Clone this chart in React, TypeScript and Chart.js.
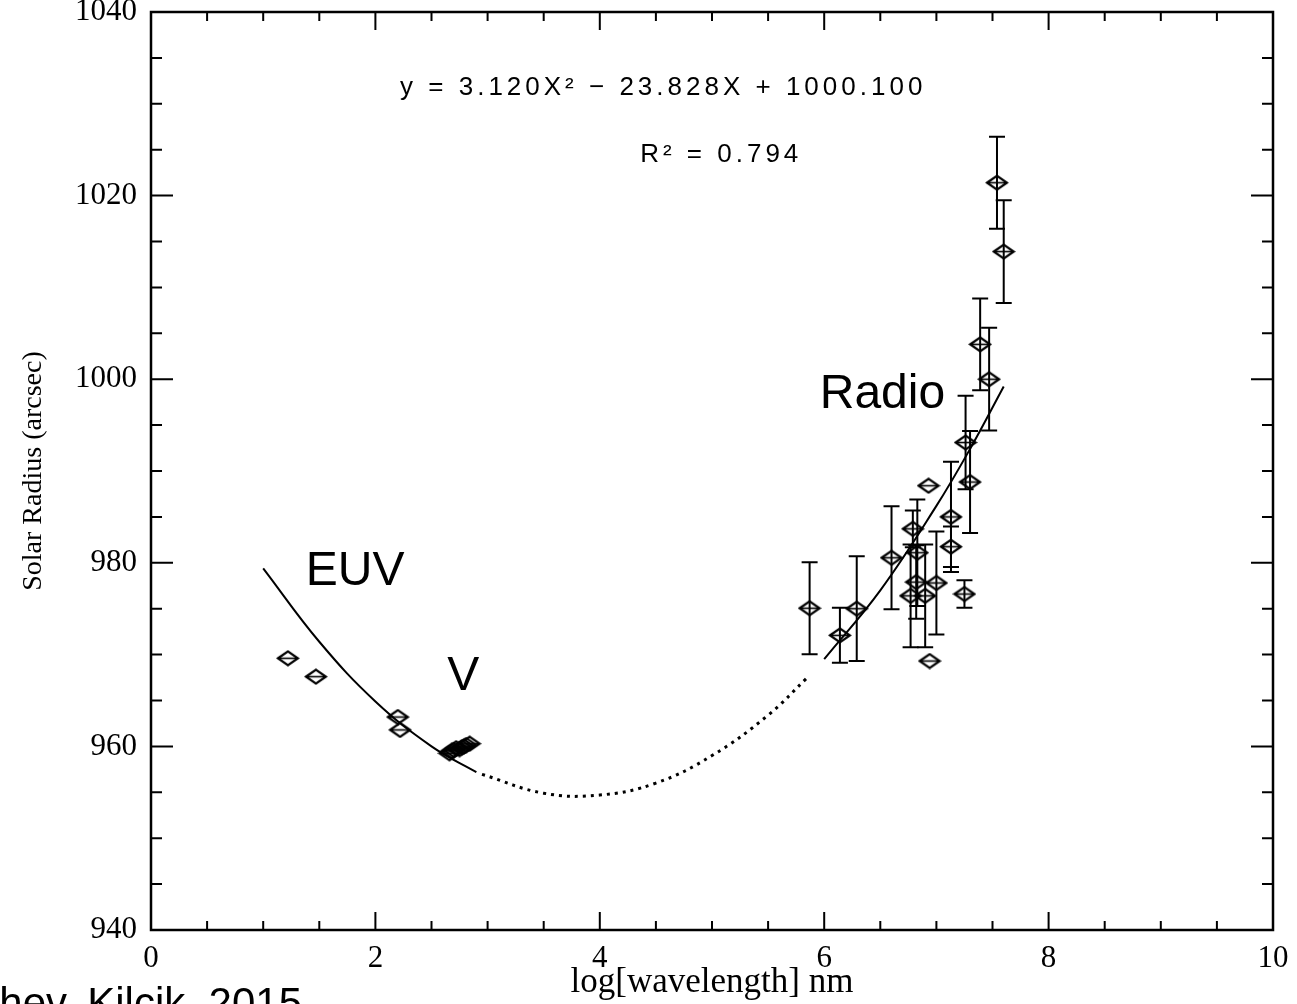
import React, { useEffect, useRef } from "react";
import { Chart, registerables } from "chart.js";

Chart.register(...registerables);

// ---------- data ----------
const euvX = [1.22, 1.47, 2.2, 2.22];
const euvY = [969.6, 967.6, 963.2, 961.8];

const visX = [2.66, 2.68, 2.7, 2.72, 2.75, 2.77, 2.79, 2.81, 2.84];
const visY = [959.25, 959.5, 959.6, 959.8, 959.7, 959.9, 960.0, 960.15, 960.3];

const radioX = [5.87, 6.14, 6.29, 6.6, 6.79, 6.83, 6.82, 6.77, 6.9, 6.93, 6.94, 7.0, 7.13, 7.13, 7.25, 7.26, 7.3, 7.39, 7.47, 7.54, 7.6];
const radioY = [975.05, 972.1, 975.0, 980.55, 983.7, 981.1, 977.9, 976.4, 976.4, 988.4, 969.3, 977.8, 985.0, 981.75, 976.6, 993.1, 988.8, 1003.8, 1000.0, 1021.4, 1013.9];
const radioErr = [5.0, 3.0, 5.7, 5.6, 2.0, 5.8, 4.0, 5.6, 5.6, 0, 0, 5.6, 6.0, 2.2, 1.5, 5.1, 5.55, 5.0, 5.6, 5.0, 5.6];

const fitEuvX = [1.0, 1.5, 2.0, 2.5, 2.9];
const fitEuvY = [979.4, 971.4, 964.9, 960.0, 957.2];
const fitGapX = [2.95, 3.5, 4.0, 4.5, 5.0, 5.5, 5.85];
const fitGapY = [956.96, 954.9, 954.7, 956.0, 959.0, 963.4, 967.5];
const fitRadioX = [6.0, 6.5, 7.0, 7.3, 7.6];
const fitRadioY = [969.5, 977.0, 986.2, 992.4, 999.2];

const xMin = 0;
const xMax = 10;
const xMajor = 2;
const xMinor = 0.5;
const yMin = 940;
const yMax = 1040;
const yMajor = 20;
const yMinor = 5;

const xTitle = "log[wavelength] nm";
const yTitle = "Solar Radius (arcsec)";
const equationText = "y = 3.120X\u00B2 \u2212 23.828X + 1000.100";
const r2Text = "R\u00B2 = 0.794";
const footerText = "Kosovichev, Kilcik, 2015";

// annotation anchors in data units
const notes = [
  { text: equationText, x: 2.22, y: 1031.7, font: '26px "Liberation Sans", Arial, sans-serif', spacing: "4px", base: "middle" },
  { text: r2Text, x: 4.36, y: 1024.4, font: '26px "Liberation Sans", Arial, sans-serif', spacing: "4px", base: "middle" },
  { text: "Radio", x: 5.96, y: 996.9, font: '48px "Liberation Sans", Arial, sans-serif', spacing: "0px", base: "alphabetic" },
  { text: "EUV", x: 1.38, y: 977.6, font: '48px "Liberation Sans", Arial, sans-serif', spacing: "0px", base: "alphabetic" },
  { text: "V", x: 2.64, y: 966.1, font: '48px "Liberation Sans", Arial, sans-serif', spacing: "0px", base: "alphabetic" },
];

const pts = (xs: number[], ys: number[]) => xs.map((x, i) => ({ x, y: ys[i] }));

function makeDiamond(): HTMLCanvasElement {
  const c = document.createElement("canvas");
  c.width = 24;
  c.height = 17;
  const g = c.getContext("2d")!;
  g.strokeStyle = "#000";
  g.lineWidth = 2.2;
  g.beginPath();
  g.moveTo(2, 8.5);
  g.lineTo(12, 1.5);
  g.lineTo(22, 8.5);
  g.lineTo(12, 15.5);
  g.closePath();
  g.stroke();
  g.lineWidth = 1.6;
  g.beginPath();
  g.moveTo(2, 8.5);
  g.lineTo(22, 8.5);
  g.stroke();
  return c;
}

const decorPlugin = {
  id: "decor",
  beforeDatasetsDraw(chart: any) {
    const { ctx, scales } = chart;
    const x = scales.x;
    const y = scales.y;
    ctx.save();
    ctx.strokeStyle = "#000";
    ctx.lineWidth = 2;
    radioX.forEach((vx, i) => {
      const e = radioErr[i];
      if (!e) return;
      const px = x.getPixelForValue(vx);
      const top = y.getPixelForValue(radioY[i] + e);
      const bot = y.getPixelForValue(radioY[i] - e);
      ctx.beginPath();
      ctx.moveTo(px, top);
      ctx.lineTo(px, bot);
      ctx.moveTo(px - 8, top);
      ctx.lineTo(px + 8, top);
      ctx.moveTo(px - 8, bot);
      ctx.lineTo(px + 8, bot);
      ctx.stroke();
    });
    ctx.restore();
  },
  afterDraw(chart: any) {
    const { ctx, chartArea, scales } = chart;
    const x = scales.x;
    const y = scales.y;
    const { left, right, top, bottom } = chartArea;
    ctx.save();
    ctx.strokeStyle = "#000";
    ctx.lineWidth = 2.5;
    ctx.strokeRect(left, top, right - left, bottom - top);
    ctx.lineWidth = 2;
    ctx.beginPath();
    for (let v = xMin; v <= xMax + 1e-9; v += xMinor) {
      const px = x.getPixelForValue(v);
      const major = Math.abs(v / xMajor - Math.round(v / xMajor)) < 1e-6;
      const len = major ? 18 : 9;
      ctx.moveTo(px, bottom);
      ctx.lineTo(px, bottom - len);
      ctx.moveTo(px, top);
      ctx.lineTo(px, top + len);
    }
    for (let v = yMin; v <= yMax + 1e-9; v += yMinor) {
      const py = y.getPixelForValue(v);
      const major = Math.abs(v / yMajor - Math.round(v / yMajor)) < 1e-6;
      const len = major ? 22 : 11;
      ctx.moveTo(left, py);
      ctx.lineTo(left + len, py);
      ctx.moveTo(right, py);
      ctx.lineTo(right - len, py);
    }
    ctx.stroke();

    ctx.fillStyle = "#000";
    ctx.textAlign = "left";
    notes.forEach((n) => {
      ctx.font = n.font;
      (ctx as any).letterSpacing = n.spacing;
      ctx.textBaseline = n.base as CanvasTextBaseline;
      ctx.fillText(n.text, x.getPixelForValue(n.x), y.getPixelForValue(n.y));
    });
    (ctx as any).letterSpacing = "0px";
    ctx.font = '42px "Liberation Sans", Arial, sans-serif';
    ctx.textAlign = "right";
    ctx.textBaseline = "alphabetic";
    ctx.fillText(footerText, 302, 1017);
    ctx.restore();
  },
};

const zeroPad = (scale: any) => {
  scale.paddingTop = 0;
  scale.paddingBottom = 0;
  scale.paddingLeft = 0;
  scale.paddingRight = 0;
};

export default function App() {
  const ref = useRef<HTMLCanvasElement | null>(null);

  useEffect(() => {
    if (!ref.current) return;
    const diamond = makeDiamond();
    const markerBase = {
      showLine: false,
      pointStyle: diamond,
      pointRadius: 9,
      borderColor: "#000",
      backgroundColor: "transparent",
    };
    const lineBase = {
      showLine: true,
      pointRadius: 0,
      borderColor: "#000",
      backgroundColor: "transparent",
      tension: 0.4,
      fill: false,
    };
    const serif = '"Liberation Serif", "Times New Roman", serif';
    const plain = (v: any) => String(v);
    const chart = new Chart(ref.current, {
      type: "scatter",
      data: {
        datasets: [
          { ...lineBase, label: "fit EUV", data: pts(fitEuvX, fitEuvY), borderWidth: 2 },
          { ...lineBase, label: "fit gap", data: pts(fitGapX, fitGapY), borderWidth: 3, borderDash: [3, 5] },
          { ...lineBase, label: "fit radio", data: pts(fitRadioX, fitRadioY), borderWidth: 2 },
          { ...markerBase, label: "EUV", data: pts(euvX, euvY) },
          { ...markerBase, label: "V", data: pts(visX, visY) },
          { ...markerBase, label: "Radio", data: pts(radioX, radioY) },
        ] as any,
      },
      options: {
        responsive: false,
        animation: false,
        events: [],
        layout: { padding: { top: 12, right: 24, left: 0, bottom: 0 } },
        plugins: { legend: { display: false }, tooltip: { enabled: false } },
        scales: {
          x: {
            type: "linear",
            min: xMin,
            max: xMax,
            grid: { display: false, drawTicks: false },
            border: { display: false },
            ticks: { stepSize: xMajor, color: "#000", font: { family: serif, size: 31 }, padding: 10, maxRotation: 0, callback: plain },
            title: { display: true, text: xTitle, color: "#000", font: { family: serif, size: 35 }, padding: { top: 0, bottom: 0 } },
            afterFit: (s: any) => {
              s.height = 74;
              zeroPad(s);
            },
          },
          y: {
            type: "linear",
            min: yMin,
            max: yMax,
            grid: { display: false, drawTicks: false },
            border: { display: false },
            ticks: { stepSize: yMajor, color: "#000", font: { family: serif, size: 31 }, padding: 14, callback: plain },
            title: { display: true, text: yTitle, color: "#000", font: { family: serif, size: 28 }, padding: { top: 17, bottom: 0 } },
            afterFit: (s: any) => {
              s.width = 151;
              zeroPad(s);
            },
          },
        },
      } as any,
      plugins: [decorPlugin],
    });
    return () => chart.destroy();
  }, []);

  return (
    <div style={{ position: "absolute", left: 0, top: 0, width: 1297, height: 1004, background: "#fff", overflow: "hidden" }}>
      <canvas ref={ref} width={1297} height={1004} style={{ display: "block" }} />
    </div>
  );
}
